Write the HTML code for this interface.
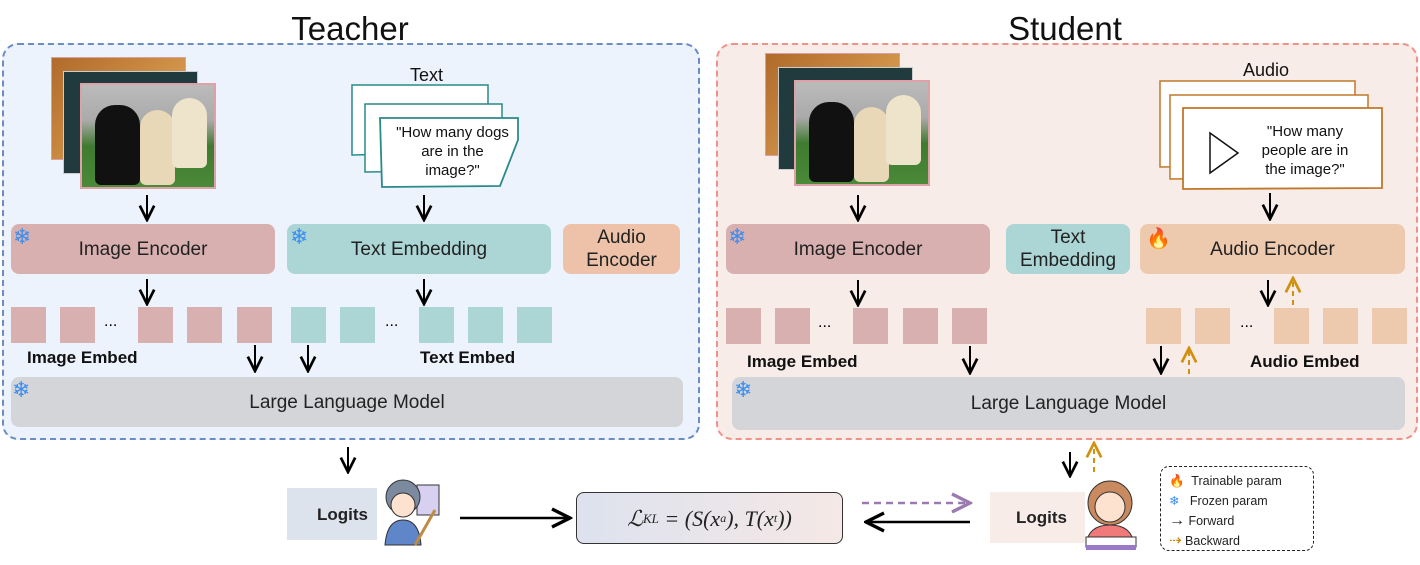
<!DOCTYPE html>
<html><head><meta charset="utf-8"><style>
body{margin:0;width:1420px;height:565px;background:#fff;position:relative;overflow:hidden;font-family:"Liberation Sans","DejaVu Sans",sans-serif;}
.a{position:absolute;box-sizing:border-box;}
.box{display:flex;align-items:center;justify-content:center;text-align:center;border-radius:8px;font-size:19px;color:#222;line-height:23px;}
.sq{position:absolute;width:35px;height:36px;}
.lbl{position:absolute;font-weight:bold;font-size:17px;color:#111;}
.snow{position:absolute;color:#3b8df0;font-size:22px;line-height:22px;}
</style></head><body>
<div class="a" style="left:2px;top:43px;width:698px;height:397px;border:2px dashed #6b8cc4;border-radius:16px;background:#edf3fc"></div>
<div class="a" style="left:716px;top:43px;width:702px;height:397px;border:2px dashed #f0928a;border-radius:16px;background:#f8ece9"></div>
<div class="a" style="left:250px;top:10px;width:200px;text-align:center;font-size:33px;color:#111">Teacher</div>
<div class="a" style="left:965px;top:10px;width:200px;text-align:center;font-size:33px;color:#111">Student</div>

<div class="a" style="left:51px;top:57px;width:135px;height:103px;background:linear-gradient(135deg,#b06a2a,#e8b060);border:1px solid #d9a0a0"></div>
<div class="a" style="left:63px;top:71px;width:135px;height:103px;background:#213a3e;border:1px solid #ccc"></div>
<div class="a" style="left:80px;top:83px;width:136px;height:106px;background:linear-gradient(#bbb 0,#aaa 35%,#3f7a30 60%,#4a8a38);border:2px solid #e0a0a8"></div>
<div class="a" style="left:95px;top:105px;width:45px;height:80px;background:#111;border-radius:20px 20px 6px 6px"></div>
<div class="a" style="left:140px;top:110px;width:35px;height:75px;background:#e8d8b8;border-radius:18px 18px 6px 6px"></div>
<div class="a" style="left:172px;top:98px;width:35px;height:70px;background:#eee4cc;border-radius:18px 18px 6px 6px"></div>
<svg class="a" style="left:340px;top:60px" width="200" height="140">
<path d="M12 25 L148 25 L148 92 L12 95 Z" fill="#fff" stroke="#2a8a8a" stroke-width="1.5"/>
<path d="M25 44 L162 44 L162 110 L25 112 Z" fill="#fff" stroke="#2a8a8a" stroke-width="1.5"/>
<path d="M40 58 L178 58 L178 80 L160 126 L42 127 Z" fill="#fff" stroke="#2a8a8a" stroke-width="1.8"/>
</svg>
<div class="a" style="left:410px;top:65px;font-size:18px;color:#111">Text</div>
<div class="a" style="left:380px;top:123px;width:145px;text-align:center;font-size:15px;line-height:19px;color:#111">"How many dogs<br>are in the<br>image?"</div>

<div class="a box" style="left:11px;top:224px;width:264px;height:50px;background:#d9b0b0">Image Encoder</div>
<div class="a box" style="left:287px;top:224px;width:264px;height:50px;background:#acd6d6">Text Embedding</div>
<div class="a box" style="left:563px;top:224px;width:117px;height:50px;background:#edc2a8">Audio<br>Encoder</div>
<div class="snow" style="left:13px;top:226px">❄</div>
<div class="snow" style="left:290px;top:226px">❄</div>

<div class="sq" style="left:11px;top:307px;background:#d9b0b0"></div>
<div class="sq" style="left:60px;top:307px;background:#d9b0b0"></div>
<div class="sq" style="left:138px;top:307px;background:#d9b0b0"></div>
<div class="sq" style="left:187px;top:307px;background:#d9b0b0"></div>
<div class="sq" style="left:237px;top:307px;background:#d9b0b0"></div>
<div class="a" style="left:104px;top:313px;font-size:16px">...</div>
<div class="sq" style="left:291px;top:307px;background:#acd6d6"></div>
<div class="sq" style="left:340px;top:307px;background:#acd6d6"></div>
<div class="sq" style="left:419px;top:307px;background:#acd6d6"></div>
<div class="sq" style="left:468px;top:307px;background:#acd6d6"></div>
<div class="sq" style="left:517px;top:307px;background:#acd6d6"></div>
<div class="a" style="left:385px;top:313px;font-size:16px">...</div>
<div class="lbl" style="left:27px;top:348px">Image Embed</div>
<div class="lbl" style="left:420px;top:348px">Text Embed</div>
<div class="a box" style="left:11px;top:377px;width:672px;height:50px;background:#d3d5d8">Large Language Model</div>
<div class="snow" style="left:12px;top:379px">❄</div>

<div class="a" style="left:765px;top:53px;width:135px;height:103px;background:linear-gradient(135deg,#b06a2a,#e8b060);border:1px solid #d9a0a0"></div>
<div class="a" style="left:778px;top:67px;width:135px;height:103px;background:#213a3e;border:1px solid #ccc"></div>
<div class="a" style="left:794px;top:80px;width:136px;height:106px;background:linear-gradient(#bbb 0,#aaa 35%,#3f7a30 60%,#4a8a38);border:2px solid #e0a0a8"></div>
<div class="a" style="left:809px;top:102px;width:45px;height:80px;background:#111;border-radius:20px 20px 6px 6px"></div>
<div class="a" style="left:854px;top:107px;width:35px;height:75px;background:#e8d8b8;border-radius:18px 18px 6px 6px"></div>
<div class="a" style="left:886px;top:95px;width:35px;height:70px;background:#eee4cc;border-radius:18px 18px 6px 6px"></div>
<svg class="a" style="left:1150px;top:75px" width="240" height="120">
<path d="M10 6 L205 6 L205 90 L10 92 Z" fill="#fff" stroke="#c0782a" stroke-width="1.5"/>
<path d="M20 20 L218 20 L218 102 L20 104 Z" fill="#fff" stroke="#c0782a" stroke-width="1.5"/>
<path d="M33 33 L232 33 L232 113 L33 114 Z" fill="#fff" stroke="#c0782a" stroke-width="1.8"/>
<path d="M60 58 L60 98 L88 78 Z" fill="none" stroke="#111" stroke-width="1.5"/>
</svg>
<div class="a" style="left:1243px;top:60px;font-size:18px;color:#111">Audio</div>
<div class="a" style="left:1250px;top:122px;width:110px;text-align:center;font-size:15px;line-height:19px;color:#111">"How many<br>people are in<br>the image?"</div>

<div class="a box" style="left:726px;top:224px;width:264px;height:50px;background:#d9b0b0">Image Encoder</div>
<div class="a box" style="left:1006px;top:224px;width:124px;height:50px;background:#acd6d6">Text<br>Embedding</div>
<div class="a box" style="left:1140px;top:224px;width:265px;height:50px;background:#edc9ae">Audio Encoder</div>
<div class="snow" style="left:728px;top:226px">❄</div>
<div class="a" style="left:1146px;top:226px;font-size:20px;color:#f05020">🔥</div>

<div class="sq" style="left:726px;top:308px;background:#d9b0b0"></div>
<div class="sq" style="left:775px;top:308px;background:#d9b0b0"></div>
<div class="sq" style="left:853px;top:308px;background:#d9b0b0"></div>
<div class="sq" style="left:903px;top:308px;background:#d9b0b0"></div>
<div class="sq" style="left:952px;top:308px;background:#d9b0b0"></div>
<div class="a" style="left:818px;top:314px;font-size:16px">...</div>
<div class="sq" style="left:1146px;top:308px;background:#edc9ae"></div>
<div class="sq" style="left:1195px;top:308px;background:#edc9ae"></div>
<div class="sq" style="left:1274px;top:308px;background:#edc9ae"></div>
<div class="sq" style="left:1323px;top:308px;background:#edc9ae"></div>
<div class="sq" style="left:1372px;top:308px;background:#edc9ae"></div>
<div class="a" style="left:1240px;top:314px;font-size:16px">...</div>
<div class="lbl" style="left:747px;top:352px">Image Embed</div>
<div class="lbl" style="left:1250px;top:352px">Audio Embed</div>
<div class="a box" style="left:732px;top:377px;width:673px;height:53px;background:#d3d5d8">Large Language Model</div>
<div class="snow" style="left:734px;top:379px">❄</div>

<div class="a box" style="left:287px;top:488px;width:90px;height:52px;background:#dde3ec;border-radius:0;font-weight:bold;font-size:17px;justify-content:flex-start;padding-left:30px">Logits</div>
<div class="a box" style="left:990px;top:492px;width:95px;height:51px;background:#f8ece9;border-radius:0;font-weight:bold;font-size:17px;justify-content:flex-start;padding-left:26px">Logits</div>
<div class="a box" style="left:576px;top:492px;width:267px;height:52px;background:linear-gradient(90deg,#dde2ee,#f5e8e6);border:1.5px solid #333;font-family:'Liberation Serif',serif;font-style:italic;font-size:22px">ℒ<sub style="font-size:13px">KL</sub>&nbsp;= (S(x<sup style="font-size:12px">a</sup>), T(x<sup style="font-size:12px">t</sup>))</div>
<svg class="a" style="left:375px;top:475px" width="75" height="75">
<rect x="42" y="10" width="22" height="30" fill="#d8d0f0" stroke="#333"/>
<circle cx="28" cy="22" r="17" fill="#7c8aa0" stroke="#333"/>
<circle cx="28" cy="30" r="12" fill="#fde3cf" stroke="#333"/>
<path d="M10 70 Q12 45 28 45 Q44 45 46 70 Z" fill="#5f86c8" stroke="#333"/>
<line x1="40" y1="70" x2="60" y2="35" stroke="#c08a40" stroke-width="3"/>
</svg>
<svg class="a" style="left:1078px;top:475px" width="70" height="78">
<circle cx="32" cy="28" r="22" fill="#c98a60" stroke="#333"/>
<circle cx="32" cy="32" r="15" fill="#fde3cf" stroke="#333"/>
<path d="M8 70 Q10 50 32 50 Q54 50 56 70 Z" fill="#f07a7a" stroke="#333"/>
<rect x="8" y="62" width="50" height="10" fill="#fff" stroke="#333"/>
<rect x="8" y="70" width="50" height="5" fill="#9a7ac8"/>
</svg>
<div class="a" style="left:1160px;top:466px;width:154px;height:85px;border:1.5px dashed #222;border-radius:9px;font-size:12.5px;color:#222;line-height:20px;padding:4px 0 0 8px">
<div><span style="color:#f05020">🔥</span>&nbsp; Trainable param</div>
<div><span style="color:#3b8df0">❄</span>&nbsp;&nbsp; Frozen param</div>
<div><span style="font-size:16px">→</span> Forward</div>
<div><span style="color:#c8860c;font-size:15px">⇢</span> Backward</div>
</div>

<svg class="a" style="left:0;top:0" width="1420" height="565">
<defs>
<marker id="k" viewBox="0 0 10 10" refX="9" refY="5" markerWidth="9" markerHeight="9" orient="auto"><path d="M1 1 L9 5 L1 9" fill="none" stroke="#000" stroke-width="1.5"/></marker>
<marker id="o" viewBox="0 0 10 10" refX="9" refY="5" markerWidth="9" markerHeight="9" orient="auto"><path d="M1 1 L9 5 L1 9" fill="none" stroke="#d09010" stroke-width="1.5"/></marker>
<marker id="p" viewBox="0 0 10 10" refX="9" refY="5" markerWidth="9" markerHeight="9" orient="auto"><path d="M1 1 L9 5 L1 9" fill="none" stroke="#9a7ab0" stroke-width="1.5"/></marker>
</defs>
<g stroke="#000" stroke-width="2" marker-end="url(#k)" fill="none">
<path d="M147 195 V220"/><path d="M424 195 V220"/><path d="M147 279 V304"/><path d="M424 279 V304"/>
<path d="M255 345 V371"/><path d="M308 345 V371"/>
<path d="M858 195 V220"/><path d="M1270 193 V219"/><path d="M858 280 V305"/><path d="M1268 280 V305"/>
<path d="M970 346 V373"/><path d="M1161 346 V373"/>
<path d="M348 447 V472"/><path d="M1070 452 V476"/>
<path d="M460 518 H570" stroke-width="2.5"/><path d="M970 522 H866" stroke-width="2.5"/>
</g>
<g stroke="#d09010" stroke-width="2" stroke-dasharray="5,4" marker-end="url(#o)" fill="none">
<path d="M1293 305 V278"/><path d="M1189 374 V348"/><path d="M1094 472 V443"/>
</g>
<path d="M862 503 H970" stroke="#9a7ab0" stroke-width="2.5" stroke-dasharray="7,5" marker-end="url(#p)" fill="none"/>
</svg>
</body></html>
